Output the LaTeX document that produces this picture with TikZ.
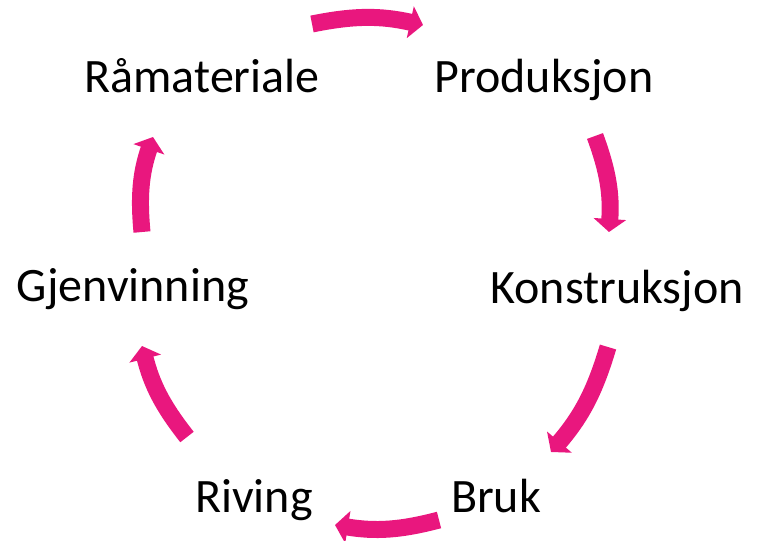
\documentclass[tikz,border=0pt]{standalone}
\usepackage{fontspec}
\setmainfont{Carlito}
\usetikzlibrary{arrows.meta}
\definecolor{cyclepink}{RGB}{233,23,126}
\tikzset{
  x=1pt, y=-1pt,
  lbl/.style={anchor=base, inner sep=0pt, font=\fontsize{48}{56}\selectfont},
  cyc/.style={draw=cyclepink, line width=17pt, line cap=butt,
    -{Triangle[width=32pt, length=13pt]}, bend left=12},
}
\begin{document}
\begin{tikzpicture}
\useasboundingbox (0,0) rectangle (758,541);
\node[lbl] (ram) at (202,92) {Råmateriale};
\node[lbl] (pro) at (544,92) {Produksjon};
\node[lbl] (kon) at (617,303) {Konstruksjon};
\node[lbl] (gje) at (133,301) {Gjenvinning};
\node[lbl] (riv) at (254,512) {Riving};
\node[lbl] (bru) at (496,512) {Bruk};
\coordinate (a1s) at (312,24); \coordinate (a1e) at (423,25);
\coordinate (a2s) at (595,136); \coordinate (a2e) at (609,232);
\coordinate (a3s) at (608,347); \coordinate (a3e) at (551,452);
\coordinate (a4s) at (439,520); \coordinate (a4e) at (335,525);
\coordinate (a5s) at (187,437); \coordinate (a5e) at (142,346);
\coordinate (a6s) at (142,232); \coordinate (a6e) at (153,137);
\draw[cyc] (a1s) to (a1e);
\draw[cyc] (a2s) to (a2e);
\draw[cyc] (a3s) to (a3e);
\draw[cyc] (a4s) to (a4e);
\draw[cyc] (a5s) to (a5e);
\draw[cyc] (a6s) to (a6e);
\end{tikzpicture}
\end{document}
